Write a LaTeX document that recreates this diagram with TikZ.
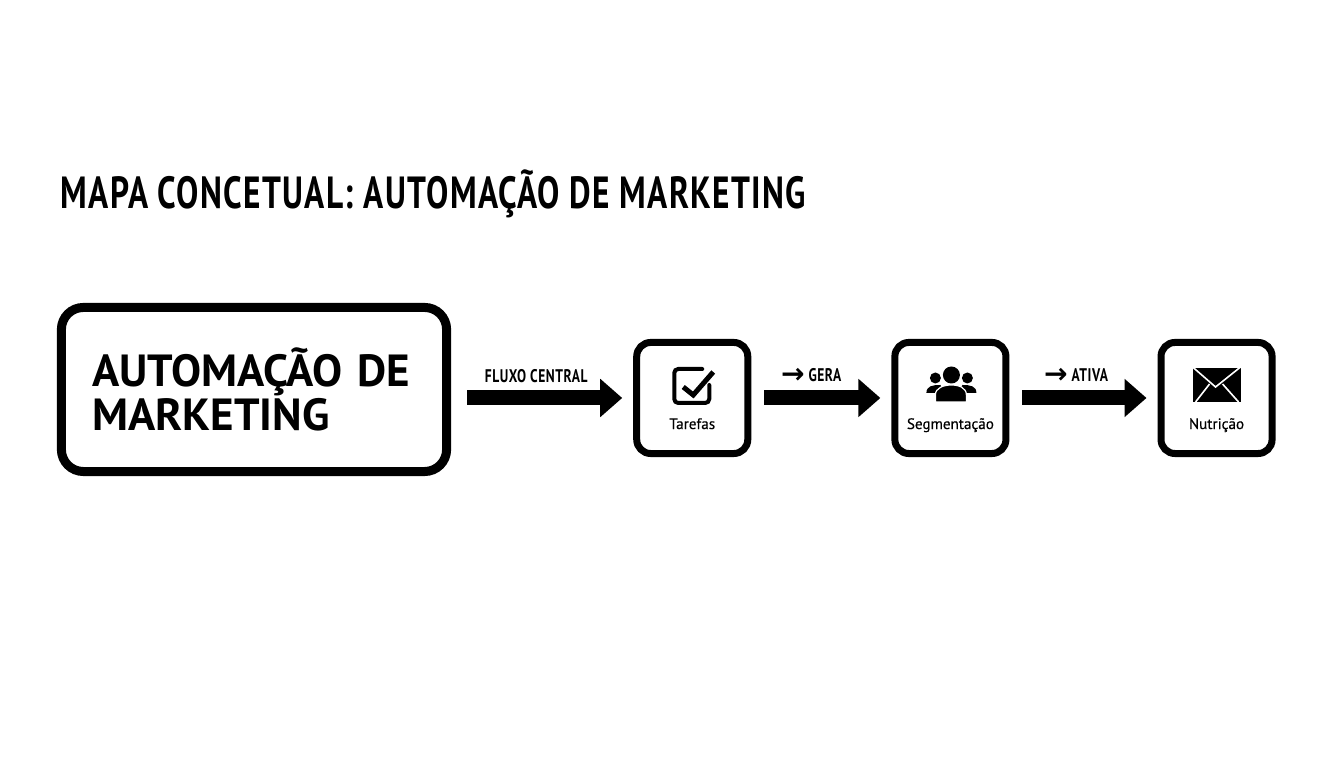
\documentclass[tikz,border=0pt]{standalone}
\usepackage{fontspec}
\setmainfont{PT Sans}
\newfontfamily\narrowfont[FakeStretch=0.74, LetterSpace=3]{PT Sans}
\newfontfamily\mediumfont[FakeBold=0.4]{PT Sans}
\newfontfamily\symbolfont{DejaVu Sans}
\usepackage{tikz}
\usetikzlibrary{positioning}
\usetikzlibrary{arrows.meta}
\tikzset{>={Triangle[width=3.7mm,length=2.2mm]}}
\newcommand{\flowmark}{\raisebox{-.6pt}{\symbolfont\fontsize{8}{6}\selectfont →}}

\begin{document}
\begin{tikzpicture}[x=.01cm, y=-.01cm, bigbox/.style={draw=black, rounded corners=.22cm, line width=.09cm, minimum height=1.64cm, text width=3.23cm, inner xsep=.31cm, inner ysep=0pt, align=left, font=\bfseries\fontsize{12.8}{14}\selectfont}, smallbox/.style={draw=black, rounded corners=.14cm, line width=.07cm, minimum size=1.11cm, inner sep=0pt}, boxtext/.style={anchor=base, inner sep=0pt, font=\mediumfont\fontsize{4.3}{5}\selectfont}, flowlabel/.style={inner sep=0pt, font=\narrowfont\bfseries\fontsize{5.2}{6}\selectfont}, titletext/.style={anchor=west, inner sep=0pt, font=\narrowfont\bfseries\fontsize{12.8}{14}\selectfont}, flow/.style={->, line width=.15cm}]

    \useasboundingbox (0,0) rectangle (1344,768);

    %Nodes
    \node[titletext](title) at (60,194){MAPA CONCETUAL: AUTOMAÇÃO DE MARKETING};
    \node[bigbox](main) at (254,389.5){\vspace*{-.05cm}AUTOMAÇÃO DE\\MARKETING};
    \node[smallbox](tarefas)[right=1.82cm of main, yshift=-.085cm]{};
    \node[smallbox](segmentacao)[right=1.4cm of tarefas]{};
    \node[smallbox](nutricao)[right=1.48cm of segmentacao]{};
    \node[boxtext](tarefas_text) at ([yshift=-.31cm]tarefas.center){Tarefas};
    \node[boxtext](segmentacao_text) at ([yshift=-.31cm]segmentacao.center){Segmentação};
    \node[boxtext](nutricao_text) at ([yshift=-.31cm]nutricao.center){Nutrição};
    \node[flowlabel](fluxo)[left=.45cm of tarefas.west, yshift=.22cm]{FLUXO CENTRAL};
    \node[flowlabel, anchor=west](gera)[right=.29cm of tarefas.east, yshift=.22cm]{\flowmark{} GERA};
    \node[flowlabel, anchor=west](ativa)[right=.34cm of segmentacao.east, yshift=.22cm]{\flowmark{} ATIVA};

    %Lines
    \draw[flow, shorten <=.16cm, shorten >=.11cm] (main.east |- tarefas.west) -- (tarefas.west);
    \draw[flow, shorten <=.13cm, shorten >=.11cm] (tarefas.east) -- (segmentacao.west);
    \draw[flow, shorten <=.13cm, shorten >=.11cm] (segmentacao.east) -- (nutricao.west);

    %Icons
    \begin{scope}[shift={(tarefas.center)}]
        \draw[line width=.04cm, line cap=round, rounded corners=.04cm] (10,-29) -- (-18,-29) -- (-18,5) -- (17,5) -- (17,-13);
        \draw[line width=.05cm] (-9,-11) -- (1,-3) -- (21,-26);
    \end{scope}
    \begin{scope}[shift={(segmentacao.center)}]
        \fill (-15,-20) circle (.055cm);
        \fill (17,-20) circle (.055cm);
        \fill (1,-23) circle (.085cm);
        \fill (-24,-5) .. controls (-24,-12) and (-18,-13) .. (-10,-13) -- (-6,-5) -- cycle;
        \fill (26,-5) .. controls (26,-12) and (20,-13) .. (12,-13) -- (8,-5) -- cycle;
        \fill[draw=white, line width=.012cm] (-15,4) -- (-15,-3) .. controls (-15,-10) and (-7,-13) .. (1,-13) .. controls (9,-13) and (16,-10) .. (16,-3) -- (16,4) -- cycle;
    \end{scope}
    \begin{scope}[shift={(nutricao.center)}]
        \fill (-24,-30) rectangle (24,4);
        \draw[white, line width=.016cm] (-24,-31) -- (-1,-11) -- (24,-31);
        \draw[white, line width=.016cm] (-21,4) -- (-7,-14);
        \draw[white, line width=.016cm] (22,4) -- (6,-14);
    \end{scope}

\end{tikzpicture}
\end{document}
